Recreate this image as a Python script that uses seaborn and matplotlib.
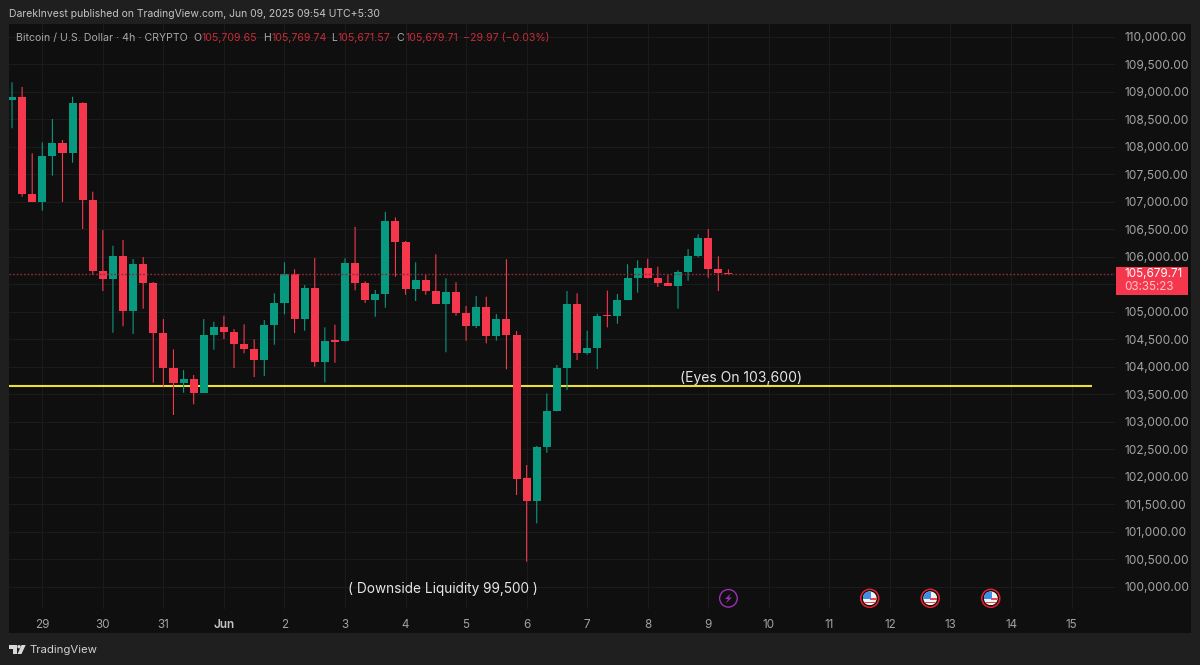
import matplotlib
matplotlib.use('Agg')
import matplotlib.pyplot as plt
from matplotlib.patches import Rectangle, Circle, Polygon
from matplotlib.transforms import Affine2D
import numpy as np
import pandas as pd
import seaborn as sns

# 4h candles
opens = [108855, 108904, 107145, 107000, 107825, 108067, 107891, 108789, 107036, 105740, 105600, 106013,
         105013, 105867, 105527, 104613, 103982, 103704, 103776, 103522, 104576, 104722, 104625, 104418,
         104322, 104122, 104753, 105153, 105680, 104867, 105425, 104080, 104480, 104467, 105880, 105522,
         105207, 105327, 106649, 106262, 105413, 105576, 105371, 105145, 105353, 104976, 104745, 105085,
         104558, 104867, 104576, 101971, 101558, 102535, 103189, 103971, 105135, 104255, 104335, 104945,
         104927, 105207, 105618, 105789, 105607, 105516, 105473, 105722, 106018, 106335, 105776, 105709.65]
highs = [109171, 109085, 107880, 108080, 108504, 108122, 108909, 108807, 107182, 106485, 106200, 106304,
         105958, 105995, 105540, 104867, 104316, 103940, 103849, 104867, 104818, 104927, 104685, 104771,
         104498, 104849, 105335, 105898, 105771, 105485, 105976, 104716, 104764, 105971, 106545, 105553,
         105395, 106818, 106716, 106285, 105898, 105667, 106044, 105607, 105535, 105104, 105285, 105273,
         104958, 105953, 104649, 102213, 102558, 103516, 104031, 105376, 105335, 104655, 104964, 105382,
         105322, 105862, 105935, 105964, 105818, 105685, 105753, 106140, 106407, 106504, 106007, 105769.74]
lows = [108335, 107091, 107000, 106836, 107473, 106994, 107709, 106504, 105667, 105376, 104618, 104735,
        104595, 105055, 103709, 103636, 103122, 103527, 103316, 103522, 104309, 104504, 103976, 104244,
        103813, 103831, 104400, 104953, 104613, 104655, 104000, 103716, 104073, 104460, 105389, 105158,
        104909, 105073, 105636, 105309, 105195, 105309, 105145, 104262, 104927, 104473, 104704, 104425,
        104473, 103953, 101667, 100455, 101153, 102436, 103189, 103576, 104122, 104218, 103958, 104716,
        104782, 105207, 105345, 105607, 105449, 105467, 105055, 105564, 105989, 105618, 105376, 105671.57]
closes = [108904, 107145, 107000, 107825, 108067, 107891, 108789, 107036, 105740, 105600, 106013, 105013,
          105867, 105527, 104613, 103982, 103709, 103776, 103522, 104576, 104722, 104625, 104418, 104322,
          104122, 104753, 105153, 105680, 104867, 105425, 104080, 104467, 104454, 105880, 105522, 105207,
          105327, 106649, 106262, 105413, 105576, 105371, 105145, 105353, 104976, 104745, 105085, 104558,
          104867, 104576, 101958, 101558, 102535, 103189, 103971, 105135, 104255, 104335, 104927, 104925,
          105207, 105618, 105789, 105607, 105516, 105473, 105722, 106018, 106335, 105776, 105698, 105679.71]

day_ticks = [3, 9, 15, 21, 27, 33, 39, 45, 51, 57, 63, 69, 75, 81, 87, 93, 99, 105]
day_labels = ['29', '30', '31', 'Jun', '2', '3', '4', '5', '6', '7', '8', '9', '10', '11', '12', '13', '14', '15']
price_ticks = [100000 + 500 * k for k in range(21)]
hidden_price_label = 105500  # sits under the last price tag in the screenshot
support_level = 103655
support_end = 107
eyes_note = '(Eyes On 103,600)'
eyes_pos = (72.3, 103795)
downside_note = '( Downside Liquidity 99,500 )'
downside_pos = (42.66, 99965)
bolt_event = 71
us_events = [85, 91, 97]

BG = '#1f1f1f'
PANEL = '#0f0f0f'
GRID = '#1b1b1b'
RED = '#f5374d'
GREEN = '#089981'
TXT = '#a3a3a3'

sns.set_theme(style='dark', rc={'axes.facecolor': PANEL, 'figure.facecolor': BG})
plt.rcParams['font.family'] = ['Inter', 'DejaVu Sans']

fig = plt.figure(figsize=(12, 6.65), dpi=100)
# pixel coordinates measured from the top left, for the chrome around the chart
px = Affine2D().scale(1, -1).translate(0, 665)

fig.add_artist(Rectangle((9, 24), 1182, 609, transform=px, fc=PANEL, ec='none', zorder=-1))

ax = fig.add_axes([9 / 1200, 56 / 665, 1106 / 1200, 585 / 665])
ax.set_facecolor(PANEL)

df = pd.DataFrame({'i': range(len(opens)), 'open': opens, 'high': highs, 'low': lows, 'close': closes})
df['up'] = df['close'] >= df['open']
df['base'] = df[['open', 'close']].min(axis=1)
df['body'] = (df['close'] - df['open']).abs()

# wicks are left unsnapped so they go soft or sharp with the pixel grid, as in the screenshot
for up, col in [(True, GREEN), (False, RED)]:
    part = df[df['up'] == up]
    wicks = ax.vlines(part['i'], part['low'], part['high'], color=col, lw=0.8, zorder=2.5)
    wicks.set_snap(False)
    sns.barplot(data=part, x='i', y='body', native_scale=True, color=col, saturation=1, width=0.8,
                errorbar=None, bottom=part['base'].values, linewidth=0, zorder=3, ax=ax)

ax.plot([-0.3, support_end], [support_level, support_level], color='#ecdf3a', lw=1.5, zorder=2,
        solid_capstyle='butt')
ax.axhline(closes[-1], color='#8c2a35', lw=1, ls=(0, (1.3, 1.3)), zorder=4)

ax.set_xlim(-0.30, 109.31)
ax.set_ylim(99595, 110231)
ax.set_xlabel('')
ax.set_ylabel('')
ax.set_xticks(day_ticks, day_labels)
ax.set_yticks(price_ticks, ['' if p == hidden_price_label else f'{p:,.2f}' for p in price_ticks])
ax.yaxis.tick_right()
ax.grid(True, color=GRID, lw=0.8)
ax.set_axisbelow(True)
ax.tick_params(axis='x', length=0, pad=7, labelsize=8.4, colors=TXT)
ax.tick_params(axis='y', length=0, pad=6.5, labelsize=8.6, colors=TXT)
ax.get_xticklabels()[3].set_fontweight('semibold')
ax.get_xticklabels()[3].set_color('#c4c4c4')
for s in ax.spines.values():
    s.set_visible(False)

ax.text(*eyes_pos, eyes_note, color='#e6e6e6', fontsize=10, ha='center', va='center', zorder=6)
ax.text(*downside_pos, downside_note, color='#e6e6e6', fontsize=9.8, ha='center', va='center', zorder=6)

# header lines
fig.text(9, 14, 'DarekInvest published on TradingView.com, Jun 09, 2025 09:54 UTC+5:30', transform=px,
         color='#c4c4c4', fontsize=7.5, va='center')
LEG_RED = '#c62c3b'
LEG_GREY = '#a8a8a8'
legend_bits = [(16, 'Bitcoin / U.S. Dollar · 4h · CRYPTO', LEG_GREY), (193, 'O', LEG_GREY),
               (201, f'{opens[-1]:,.2f}', LEG_RED), (263, 'H', LEG_GREY), (271, f'{highs[-1]:,.2f}', LEG_RED),
               (331, 'L', LEG_GREY), (338, f'{lows[-1]:,.2f}', LEG_RED), (396, 'C', LEG_GREY),
               (405, f'{closes[-1]:,.2f}', LEG_RED), (463, '−29.97 (−0.03%)', LEG_RED)]
for x, s, col in legend_bits:
    fig.text(x, 38, s, transform=px, color=col, fontsize=7.6, va='center')

# last price tag
fig.add_artist(Rectangle((1116, 267), 72, 28, transform=px, fc=RED, ec='none', zorder=3))
fig.text(1124, 274, f'{closes[-1]:,.2f}', transform=px, color='#ffffff', fontsize=8.4, va='center', zorder=4)
fig.text(1124, 287.5, '03:35:23', transform=px, color='#ffc4cb', fontsize=8.4, va='center', zorder=4)


def event_x(i):
    return ax.transData.transform((i, 105000))[0]


# economic calendar markers
y0 = 598.3
bx = event_x(bolt_event)
fig.add_artist(Circle((bx, y0), 8.8, transform=px, fc='none', ec='#9c2fb5', lw=1.0, zorder=5))
fig.add_artist(Polygon([(bx + 2.5, y0 - 5), (bx - 3.5, y0 + 0.8), (bx - 0.3, y0 + 0.8), (bx - 2.5, y0 + 5),
                        (bx + 3.5, y0 - 0.8), (bx + 0.3, y0 - 0.8)], transform=px, fc='#9c2fb5', ec='none', zorder=5))
for ev in us_events:
    fx = event_x(ev)
    fig.add_artist(Circle((fx, y0), 9.0, transform=px, fc=PANEL, ec='#e3202f', lw=1.1, zorder=5))
    clip = Circle((fx, y0), 6.9, transform=px)
    parts = [Rectangle((fx - 7, y0 - 7), 14, 14, fc='#f4f4f4'),
             Rectangle((fx - 7, y0 + 3.4), 14, 1.7, fc='#ef4750'),
             Rectangle((fx, y0 - 0.6), 7, 2, fc='#ef4750'),
             Rectangle((fx - 7, y0 - 7), 8, 7.5, fc='#3f8fe8')]
    for p in parts:
        p.set_transform(px)
        p.set_edgecolor('none')
        p.set_zorder(6)
        p.set_clip_path(clip)
        fig.add_artist(p)

# footer logo and name
for shape in [[(9, 645), (16.5, 645), (16.5, 654), (12.5, 654), (12.5, 648.5), (9, 648.5)],
              [(21.5, 645), (25.7, 645), (21.5, 654), (17.5, 654)]]:
    fig.add_artist(Polygon(shape, transform=px, fc='#d8d8d8', ec='none', zorder=3))
fig.add_artist(Circle((19, 646.7), 1.7, transform=px, fc='#d8d8d8', ec='none', zorder=3))
fig.text(29.5, 650, 'TradingView', transform=px, color='#d0d0d0', fontsize=8.2, va='center')

fig.savefig('out.png', dpi=100, facecolor=BG)
